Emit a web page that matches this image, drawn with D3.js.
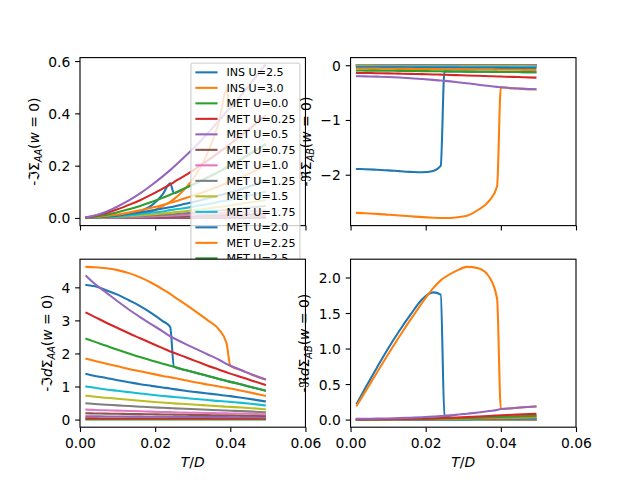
<!DOCTYPE html>
<html><head><meta charset="utf-8">
<script src="https://cdn.jsdelivr.net/npm/d3@7"></script>
<style>
body{margin:0;background:#fff}
svg{display:block}
text{font-family:"DejaVu Sans",sans-serif;fill:#000}
</style>
</head><body><svg id="c" width="640" height="480"></svg>
<script>
// ---------------- data ----------------
const T = [0.0017, 0.004, 0.007, 0.010, 0.013, 0.016, 0.019, 0.022, 0.024, 0.025,
           0.028, 0.031, 0.034, 0.037, 0.039, 0.040, 0.043, 0.046, 0.0492];

const seriesLabels = ["INS U=2.5", "INS U=3.0", "MET U=0.0", "MET U=0.25", "MET U=0.5",
  "MET U=0.75", "MET U=1.0", "MET U=1.25", "MET U=1.5", "MET U=1.75", "MET U=2.0",
  "MET U=2.25", "MET U=2.5", "MET U=2.75", "MET U=3.0"];

const colors = ["#1f77b4", "#ff7f0e", "#2ca02c", "#d62728", "#9467bd",
                "#8c564b", "#e377c2", "#7f7f7f", "#bcbd22", "#17becf"];

const xTicks = [0, 0.02, 0.04, 0.06];
const yTicksTL = [0, 0.2, 0.4, 0.6];
const yTicksTR = [-2, -1, 0];
const yTicksBL = [0, 1, 2, 3, 4];
const yTicksBR = [0, 0.5, 1.0, 1.5, 2.0];

// -Im Sigma_AA(w=0)
const imSigmaAA = [
  [0, 0.0005, 0.002, 0.006, 0.013, 0.025, 0.047, 0.09, 0.133, 0.095, 0.114, 0.134, 0.155, 0.177, 0.193, 0.201, 0.226, 0.252, 0.28],
  [0, 0.0003, 0.001, 0.003, 0.007, 0.014, 0.026, 0.045, 0.062, 0.072, 0.112, 0.168, 0.25, 0.37, 0.49, 0.423, 0.471, 0.525, 0.584],
  [0, 0, 0, 0, 0, 0, 0, 0, 0, 0, 0, 0, 0, 0, 0, 0, 0, 0, 0],
  [0, 0, 0.0001, 0.0001, 0.0002, 0.0003, 0.0004, 0.0005, 0.0006, 0.0006, 0.0008, 0.0009, 0.0011, 0.0012, 0.0013, 0.0014, 0.0016, 0.0018, 0.002],
  [0, 0.0001, 0.0003, 0.0005, 0.0007, 0.001, 0.0014, 0.0018, 0.0021, 0.0022, 0.0027, 0.0032, 0.0037, 0.0043, 0.0047, 0.0049, 0.0056, 0.0062, 0.007],
  [0.0001, 0.0002, 0.0006, 0.0011, 0.0017, 0.0024, 0.0032, 0.0041, 0.0047, 0.0051, 0.0061, 0.0073, 0.0085, 0.0099, 0.0108, 0.0112, 0.0127, 0.0143, 0.016],
  [0.0001, 0.0004, 0.001, 0.0019, 0.003, 0.0043, 0.0058, 0.0074, 0.0086, 0.0092, 0.0111, 0.0132, 0.0155, 0.0179, 0.0195, 0.0204, 0.0231, 0.0259, 0.029],
  [0.0002, 0.0006, 0.0017, 0.0031, 0.0048, 0.0068, 0.0092, 0.0117, 0.0136, 0.0145, 0.0176, 0.021, 0.0246, 0.0283, 0.031, 0.0323, 0.0366, 0.041, 0.046],
  [0.0002, 0.001, 0.0025, 0.0046, 0.0071, 0.010, 0.0135, 0.0173, 0.020, 0.0215, 0.026, 0.031, 0.036, 0.042, 0.046, 0.048, 0.054, 0.061, 0.068],
  [0.0003, 0.0014, 0.0036, 0.0067, 0.010, 0.015, 0.020, 0.025, 0.030, 0.032, 0.038, 0.046, 0.053, 0.062, 0.067, 0.070, 0.080, 0.089, 0.1],
  [0.0005, 0.002, 0.005, 0.009, 0.015, 0.021, 0.028, 0.036, 0.041, 0.044, 0.054, 0.064, 0.075, 0.086, 0.094, 0.098, 0.111, 0.125, 0.14],
  [0.0006, 0.0028, 0.0072, 0.013, 0.0205, 0.029, 0.039, 0.050, 0.058, 0.062, 0.0755, 0.090, 0.105, 0.121, 0.133, 0.139, 0.157, 0.176, 0.197],
  [0.0013, 0.005, 0.012, 0.022, 0.033, 0.046, 0.061, 0.077, 0.089, 0.095, 0.114, 0.134, 0.155, 0.177, 0.193, 0.201, 0.226, 0.252, 0.28],
  [0.002, 0.008, 0.019, 0.033, 0.05, 0.068, 0.089, 0.112, 0.128, 0.137, 0.163, 0.191, 0.22, 0.251, 0.272, 0.283, 0.317, 0.351, 0.39],
  [0.0024, 0.0097, 0.024, 0.044, 0.067, 0.094, 0.125, 0.159, 0.183, 0.196, 0.236, 0.278, 0.324, 0.372, 0.406, 0.423, 0.471, 0.525, 0.584]
];

// -Re Sigma_AB(w=0)
const reSigmaAB = [
  [-1.895, -1.9, -1.91, -1.92, -1.935, -1.948, -1.956, -1.93, -1.84, -0.112, -0.114, -0.116, -0.118, -0.12, -0.122, -0.123, -0.124, -0.126, -0.128],
  [-2.697, -2.705, -2.715, -2.73, -2.745, -2.76, -2.775, -2.785, -2.79, -2.79, -2.78, -2.75, -2.64, -2.47, -2.21, -0.403, -0.42, -0.432, -0.44],
  [0, 0, 0, 0, 0, 0, 0, 0, 0, 0, 0, 0, 0, 0, 0, 0, 0, 0, 0],
  [-0.0002, -0.0002, -0.0002, -0.0002, -0.0002, -0.0002, -0.0002, -0.0002, -0.0002, -0.0002, -0.0003, -0.0003, -0.0003, -0.0003, -0.0003, -0.0003, -0.0003, -0.0003, -0.0003],
  [-0.0005, -0.0005, -0.0005, -0.0005, -0.0006, -0.0006, -0.0006, -0.0006, -0.0006, -0.0007, -0.0007, -0.0007, -0.0007, -0.0007, -0.0008, -0.0008, -0.0008, -0.0008, -0.0008],
  [-0.0015, -0.0015, -0.0015, -0.0016, -0.0016, -0.0016, -0.0017, -0.0017, -0.0017, -0.0017, -0.0018, -0.0018, -0.0018, -0.0019, -0.0019, -0.0019, -0.0019, -0.002, -0.002],
  [-0.003, -0.003, -0.0031, -0.0032, -0.0033, -0.0033, -0.0034, -0.0035, -0.0035, -0.0035, -0.0036, -0.0036, -0.0037, -0.0038, -0.0038, -0.0038, -0.0039, -0.004, -0.004],
  [-0.006, -0.006, -0.0062, -0.0063, -0.0065, -0.0066, -0.0067, -0.0069, -0.007, -0.007, -0.0071, -0.0072, -0.0074, -0.0075, -0.0076, -0.0076, -0.0078, -0.0079, -0.008],
  [-0.012, -0.012, -0.0126, -0.0129, -0.0132, -0.0135, -0.0138, -0.0141, -0.0143, -0.0145, -0.0148, -0.0151, -0.0154, -0.0157, -0.0159, -0.016, -0.0163, -0.0167, -0.017],
  [-0.022, -0.022, -0.023, -0.023, -0.024, -0.024, -0.025, -0.025, -0.026, -0.026, -0.026, -0.027, -0.027, -0.028, -0.028, -0.028, -0.029, -0.029, -0.03],
  [-0.036, -0.036, -0.037, -0.038, -0.039, -0.04, -0.041, -0.042, -0.043, -0.043, -0.044, -0.045, -0.046, -0.047, -0.048, -0.048, -0.049, -0.049, -0.05],
  [-0.06, -0.061, -0.062, -0.064, -0.066, -0.067, -0.069, -0.071, -0.072, -0.072, -0.074, -0.076, -0.077, -0.079, -0.08, -0.081, -0.082, -0.084, -0.085],
  [-0.097, -0.098, -0.099, -0.101, -0.103, -0.105, -0.107, -0.109, -0.111, -0.112, -0.114, -0.116, -0.118, -0.12, -0.122, -0.123, -0.124, -0.126, -0.128],
  [-0.14, -0.142, -0.145, -0.149, -0.153, -0.158, -0.163, -0.168, -0.172, -0.174, -0.18, -0.186, -0.193, -0.2, -0.205, -0.207, -0.213, -0.22, -0.226],
  [-0.2, -0.203, -0.208, -0.215, -0.225, -0.238, -0.252, -0.268, -0.28, -0.286, -0.306, -0.33, -0.355, -0.38, -0.395, -0.403, -0.42, -0.432, -0.44]
];

// -Im dSigma_AA(w=0)
const imdSigmaAA = [
  [4.07, 4.03, 3.91, 3.78, 3.61, 3.43, 3.22, 2.98, 2.8, 1.6, 1.5, 1.41, 1.32, 1.23, 1.17, 1.14, 1.06, 0.97, 0.88],
  [4.62, 4.61, 4.58, 4.52, 4.43, 4.3, 4.14, 3.94, 3.8, 3.72, 3.49, 3.25, 3.0, 2.72, 2.31, 1.63, 1.49, 1.35, 1.22],
  [0, 0, 0, 0, 0, 0, 0, 0, 0, 0, 0, 0, 0, 0, 0, 0, 0, 0, 0],
  [0.035, 0.035, 0.034, 0.034, 0.033, 0.033, 0.032, 0.032, 0.031, 0.031, 0.031, 0.030, 0.030, 0.029, 0.029, 0.029, 0.028, 0.028, 0.027],
  [0.1, 0.098, 0.095, 0.093, 0.09, 0.088, 0.086, 0.084, 0.082, 0.082, 0.08, 0.078, 0.076, 0.074, 0.073, 0.072, 0.07, 0.068, 0.065],
  [0.19, 0.185, 0.18, 0.175, 0.17, 0.165, 0.16, 0.155, 0.152, 0.15, 0.145, 0.14, 0.135, 0.13, 0.128, 0.127, 0.12, 0.115, 0.11],
  [0.30, 0.29, 0.28, 0.27, 0.26, 0.25, 0.24, 0.23, 0.225, 0.22, 0.21, 0.205, 0.2, 0.19, 0.187, 0.185, 0.178, 0.17, 0.16],
  [0.49, 0.47, 0.45, 0.43, 0.41, 0.39, 0.37, 0.355, 0.345, 0.34, 0.325, 0.31, 0.295, 0.28, 0.272, 0.268, 0.255, 0.24, 0.22],
  [0.72, 0.69, 0.66, 0.63, 0.6, 0.57, 0.54, 0.515, 0.5, 0.49, 0.47, 0.45, 0.425, 0.405, 0.39, 0.385, 0.365, 0.34, 0.31],
  [1.0, 0.96, 0.91, 0.87, 0.83, 0.79, 0.75, 0.715, 0.695, 0.685, 0.65, 0.62, 0.59, 0.56, 0.545, 0.535, 0.505, 0.47, 0.43],
  [1.38, 1.32, 1.26, 1.19, 1.13, 1.07, 1.02, 0.97, 0.94, 0.92, 0.87, 0.83, 0.79, 0.75, 0.72, 0.71, 0.66, 0.61, 0.55],
  [1.84, 1.77, 1.69, 1.61, 1.53, 1.46, 1.39, 1.32, 1.28, 1.26, 1.19, 1.12, 1.06, 1.0, 0.96, 0.94, 0.87, 0.8, 0.72],
  [2.44, 2.35, 2.23, 2.11, 2.0, 1.89, 1.79, 1.69, 1.63, 1.6, 1.5, 1.41, 1.32, 1.23, 1.17, 1.14, 1.06, 0.97, 0.88],
  [3.23, 3.1, 2.93, 2.77, 2.61, 2.46, 2.31, 2.16, 2.06, 2.02, 1.89, 1.76, 1.63, 1.51, 1.43, 1.39, 1.28, 1.17, 1.05],
  [4.34, 4.1, 3.84, 3.58, 3.33, 3.1, 2.88, 2.67, 2.52, 2.46, 2.29, 2.13, 1.97, 1.81, 1.68, 1.63, 1.49, 1.35, 1.22]
];

// -Re dSigma_AB(w=0)
const redSigmaAB = [
  [0.23, 0.45, 0.73, 1.0, 1.25, 1.48, 1.69, 1.79, 1.76, 0.05, 0.019, 0.023, 0.027, 0.032, 0.035, 0.037, 0.041, 0.046, 0.05],
  [0.2, 0.4, 0.66, 0.92, 1.17, 1.41, 1.64, 1.85, 1.96, 2.0, 2.09, 2.15, 2.13, 2.0, 1.7, 0.148, 0.16, 0.173, 0.185],
  [0, 0, 0, 0, 0, 0, 0, 0, 0, 0, 0, 0, 0, 0, 0, 0, 0, 0, 0],
  [0, 0, 0, 0, 0, 0, 0, 0, 0, 0, 0, 0, 0, 0, 0, 0, 0, 0, 0],
  [0, 0, 0, 0, 0, 0, 0, 0, 0, 0, 0, 0, 0, 0, 0, 0, 0, 0, 0],
  [0, 0, 0, 0, 0, 0, 0, 0, 0, 0, 0, 0, 0, 0, 0, 0, 0, 0, 0],
  [0, 0, 0, 0, 0, 0, 0, 0, 0, 0, 0, 0, 0, 0, 0, 0, 0, 0, 0],
  [0, 0, 0, 0, 0, 0, 0, 0, 0.001, 0.001, 0.001, 0.001, 0.001, 0.001, 0.001, 0.001, 0.002, 0.002, 0.002],
  [0, 0, 0, 0, 0, 0.001, 0.001, 0.001, 0.001, 0.001, 0.001, 0.002, 0.002, 0.002, 0.003, 0.003, 0.003, 0.004, 0.004],
  [0, 0, 0, 0, 0.001, 0.001, 0.001, 0.002, 0.002, 0.002, 0.003, 0.003, 0.004, 0.005, 0.005, 0.006, 0.006, 0.007, 0.008],
  [0, 0, 0.001, 0.001, 0.001, 0.002, 0.002, 0.003, 0.004, 0.004, 0.005, 0.006, 0.008, 0.009, 0.01, 0.011, 0.012, 0.014, 0.015],
  [0, 0.001, 0.001, 0.002, 0.003, 0.004, 0.005, 0.006, 0.007, 0.008, 0.01, 0.012, 0.015, 0.017, 0.019, 0.02, 0.023, 0.025, 0.028],
  [0.001, 0.002, 0.003, 0.004, 0.005, 0.007, 0.009, 0.012, 0.014, 0.015, 0.019, 0.023, 0.027, 0.032, 0.035, 0.037, 0.041, 0.046, 0.05],
  [0.002, 0.003, 0.004, 0.006, 0.008, 0.011, 0.014, 0.018, 0.021, 0.023, 0.029, 0.036, 0.043, 0.051, 0.057, 0.06, 0.067, 0.074, 0.08],
  [0.01, 0.011, 0.013, 0.016, 0.02, 0.026, 0.033, 0.041, 0.048, 0.053, 0.066, 0.083, 0.1, 0.12, 0.134, 0.148, 0.16, 0.173, 0.185]
];

// axis label pieces (mathtext-like)
const labelTL = [["-"], ["ℑΣ"], ["AA", "sub"], ["("], ["w", "it"], [" = 0)"]];
const labelTR = [["-"], ["ℜΣ"], ["AB", "sub"], ["("], ["w", "it"], [" = 0)"]];
const labelBL = [["-"], ["ℑ"], ["d", "it"], ["Σ"], ["AA", "sub"], ["("], ["w", "it"], [" = 0)"]];
const labelBR = [["-"], ["ℜ"], ["d", "it"], ["Σ"], ["AB", "sub"], ["("], ["w", "it"], [" = 0)"]];
const xLabel = [["T", "it"], ["/"], ["D", "it"]];

// ---------------- layout ----------------
const svg = d3.select("#c");
const PT = 100 / 72;
const FS = 10 * PT, TICK = 3.5 * PT, PAD = 3.5 * PT, LABELPAD = 4 * PT;
const LW = 1.5 * PT, SPINE = 0.8 * PT;
const figL = 80, figR = 576, figT = 57.6, figB = 427.2;
const axW = (figR - figL) / 2.2, axH = (figB - figT) / 2.2;

const panels = [
  {data: imSigmaAA, col: 0, row: 0, yTicks: yTicksTL, fmt: d3.format(".1f"), label: labelTL, xlab: false},
  {data: reSigmaAB, col: 1, row: 0, yTicks: yTicksTR, fmt: d3.format("d"), label: labelTR, xlab: false},
  {data: imdSigmaAA, col: 0, row: 1, yTicks: yTicksBL, fmt: d3.format("d"), label: labelBL, xlab: true},
  {data: redSigmaAB, col: 1, row: 1, yTicks: yTicksBR, fmt: d3.format(".1f"), label: labelBR, xlab: true}
];

function addPieces(textSel, pieces, fs) {
  let shifted = 0;
  pieces.forEach(([t, kind]) => {
    const ts = textSel.append("tspan").text(t);
    if (kind === "it") ts.attr("font-style", "italic");
    if (kind === "sub") {
      ts.attr("font-style", "italic").attr("font-size", fs * 0.7).attr("dy", fs * 0.22);
      shifted = fs * 0.22;
    } else if (shifted) {
      ts.attr("dy", -shifted);
      shifted = 0;
    }
  });
}

function drawPanel(p, idx) {
  const x0 = figL + p.col * axW * 1.2;
  const y0 = figT + p.row * axH * 1.2;
  const g = svg.append("g").attr("transform", `translate(${x0},${y0})`);

  const x = d3.scaleLinear().domain([0, 0.06]).range([0, axW]);
  const all = p.data.flat();
  const lo = d3.min(all), hi = d3.max(all), m = 0.05 * (hi - lo);
  const y = d3.scaleLinear().domain([lo - m, hi + m]).range([axH, 0]);

  g.append("rect").attr("width", axW).attr("height", axH).attr("fill", "#fff");
  const cid = "clip" + idx;
  g.append("clipPath").attr("id", cid).append("rect").attr("width", axW).attr("height", axH);

  const line = d3.line().x((d, i) => x(T[i])).y(d => y(d)).curve(d3.curveMonotoneX);
  const lg = g.append("g").attr("clip-path", `url(#${cid})`);
  p.data.forEach((s, i) => {
    lg.append("path").attr("d", line(s)).attr("fill", "none")
      .attr("stroke", colors[i % 10]).attr("stroke-width", LW)
      .attr("stroke-linejoin", "round").attr("stroke-linecap", "square");
  });

  // spines
  g.append("rect").attr("width", axW).attr("height", axH).attr("fill", "none")
    .attr("stroke", "#000").attr("stroke-width", SPINE);

  // axes
  const xa = d3.axisBottom(x).tickValues(xTicks).tickSize(TICK).tickPadding(PAD)
    .tickFormat(p.xlab ? d3.format(".2f") : () => "");
  const gx = g.append("g").attr("transform", `translate(0,${axH})`).call(xa);
  const ya = d3.axisLeft(y).tickValues(p.yTicks).tickSize(TICK).tickPadding(PAD).tickFormat(p.fmt);
  const gy = g.append("g").call(ya);
  [gx, gy].forEach(a => {
    a.attr("font-family", null).attr("font-size", null);
    a.select(".domain").remove();
    a.selectAll(".tick line").attr("stroke", "#000").attr("stroke-width", SPINE);
    a.selectAll(".tick text").attr("font-size", FS).attr("fill", "#000")
      .style("font-family", "'DejaVu Sans'");
  });
  gx.selectAll(".tick text").attr("dy", "0.8em");
  gy.selectAll(".tick text").attr("dy", "0.36em");

  // y label: right edge placed LABELPAD left of tick labels
  let minX = Infinity;
  gy.selectAll(".tick text").each(function () {
    const r = this.getBoundingClientRect();
    minX = Math.min(minX, r.left);
  });
  const yl = svg.append("text").attr("font-size", FS).attr("text-anchor", "middle");
  addPieces(yl, p.label, FS);
  yl.attr("transform", `translate(${minX - LABELPAD - 4},${y0 + axH / 2}) rotate(-90)`);

  if (p.xlab) {
    const xl = svg.append("text").attr("font-size", FS).attr("text-anchor", "middle")
      .attr("x", x0 + axW / 2).attr("y", 467);
    addPieces(xl, xLabel, FS);
  }
  return {x0, y0};
}

function drawLegend(pos) {
  const lfs = 11.1;
  const pad = 0.4 * lfs, hl = 2 * lfs, htp = 0.8 * lfs, pitch = 15.5;
  const lg = svg.append("g");
  const frame = lg.append("rect");
  const texts = [];
  seriesLabels.forEach((lab, i) => {
    texts.push(lg.append("text").attr("font-size", lfs).text(lab));
  });
  const maxW = d3.max(texts, t => t.node().getComputedTextLength());
  const w = pad + hl + htp + maxW + pad;
  const fx = pos.x0 + axW - 0.5 * lfs - w;
  const fy = pos.y0 + 0.5 * lfs;
  const first = fy + 9.2;
  const h = (first - fy) * 2 + (seriesLabels.length - 1) * pitch;
  frame.attr("x", fx).attr("y", fy).attr("width", w).attr("height", h)
    .attr("rx", 0.2 * lfs).attr("fill", "#fff").attr("fill-opacity", 0.8)
    .attr("stroke", "#cccccc").attr("stroke-opacity", 0.8).attr("stroke-width", PT);
  seriesLabels.forEach((lab, i) => {
    const cy = first + i * pitch;
    lg.append("line").attr("x1", fx + pad).attr("x2", fx + pad + hl)
      .attr("y1", cy).attr("y2", cy).attr("stroke", colors[i % 10]).attr("stroke-width", LW);
    texts[i].attr("x", fx + pad + hl + htp).attr("y", cy + 4);
  });
  lg.raise();
}

panels.forEach((p, i) => {
  const pos = drawPanel(p, i);
  if (i === 0) drawLegend(pos);
});
</script>
</body></html>
